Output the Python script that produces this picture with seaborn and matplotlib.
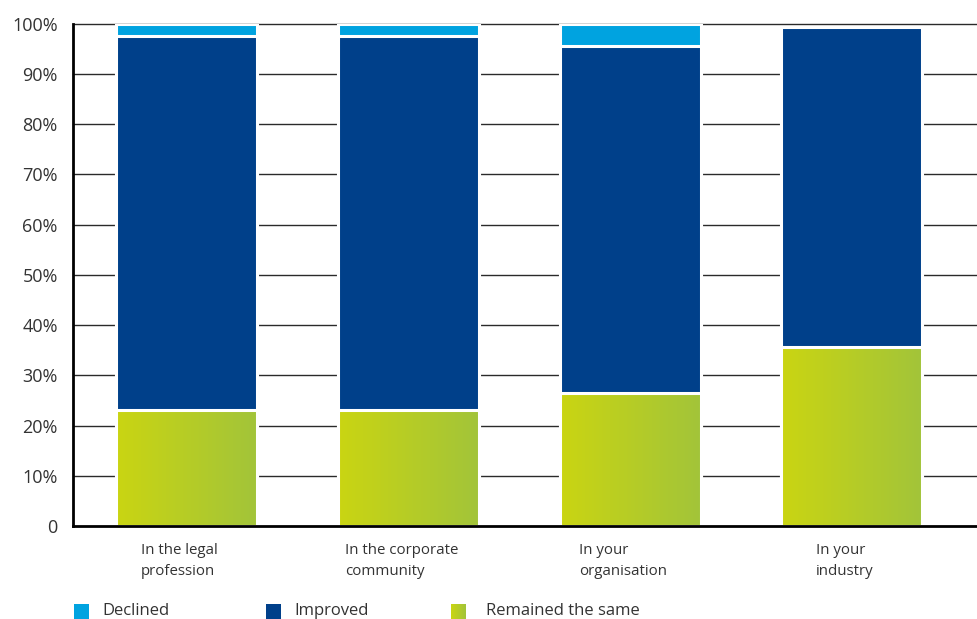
import numpy as np
import pandas as pd
import matplotlib
matplotlib.use("Agg")
import matplotlib.pyplot as plt
import matplotlib.transforms as mtransforms
import seaborn as sns
from matplotlib.patches import Rectangle
from matplotlib.colors import LinearSegmentedColormap

# ---- data (percent of respondents) ----
categories = ["In the legal\nprofession", "In the corporate\ncommunity",
              "In your\norganisation", "In your\nindustry"]
remained = [23.0, 23.0, 26.5, 35.6]
improved = [74.5, 74.5, 69.0, 63.8]
declined = [2.5, 2.5, 4.5, 0.0]
series = ["Declined", "Improved", "Remained the same"]
y_ticks = [0, 10, 20, 30, 40, 50, 60, 70, 80, 90, 100]
y_tick_labels = ["0", "10%", "20%", "30%", "40%", "50%", "60%", "70%", "80%", "90%", "100%"]

c_declined = "#00a3e0"
c_improved = "#00408a"
green_cmap = LinearSegmentedColormap.from_list("greens", ["#cad512", "#a2c43a"])

sns.set_style("white")
plt.rcParams["font.family"] = ["Open Sans", "DejaVu Sans"]
text_color = "#333333"

df = pd.DataFrame({"category": categories, "remained": remained,
                   "improved": improved, "declined": declined})
df["top_improved"] = df["remained"] + df["improved"]
df["top_declined"] = df["top_improved"] + df["declined"]

fig = plt.figure(figsize=(9.77, 6.19), dpi=100)
ax = fig.add_axes([0.0747, 0.1502, 0.9253, 0.8115])

bar_w = 0.636
common = dict(x="category", order=categories, width=bar_w, saturation=1,
              edgecolor="white", linewidth=2.2, ax=ax)

# stacked bars drawn as overlapping cumulative totals
sns.barplot(data=df, y="top_declined", color=c_declined, zorder=2, **common)
sns.barplot(data=df, y="top_improved", color=c_improved, zorder=3, **common)
n_before = len(ax.patches)
sns.barplot(data=df, y="remained", color="#b8cc2a", zorder=4, **common)
green_patches = ax.patches[n_before:]

xlim = (-0.512, 3.564)
ylim = (0, 100)

# horizontal gradient fill for the "Remained the same" segments
grad = np.linspace(0, 1, 256).reshape(1, -1)
for p in green_patches:
    x0, y0 = p.get_x(), p.get_y()
    w, h = p.get_width(), p.get_height()
    im = ax.imshow(grad, extent=[x0, x0 + w, y0, y0 + h], aspect="auto",
                   cmap=green_cmap, zorder=4.5, interpolation="bilinear")
    im.set_clip_path(p)
    p.set_facecolor("none")
    p.set_zorder(4.6)

ax.set_xlim(*xlim)
ax.set_ylim(*ylim)

# gridlines behind the bars
for yv in y_ticks[1:]:
    ax.axhline(yv, color="#2a2a2a", lw=1.0, zorder=1, clip_on=False)

ax.set_yticks(y_ticks)
ax.set_yticklabels(y_tick_labels, fontsize=13, color=text_color)
ax.tick_params(axis="y", length=0, pad=11)
ax.set_xticks(range(len(categories)))
ax.set_xticklabels(categories, fontsize=10.8, color=text_color,
                   ha="center", multialignment="left", linespacing=1.6)
ax.tick_params(axis="x", length=0, pad=12)
shift = mtransforms.ScaledTranslation(-7 / 100, 0, fig.dpi_scale_trans)
for lbl in ax.get_xticklabels():
    lbl.set_transform(lbl.get_transform() + shift)
ax.set_xlabel("")
ax.set_ylabel("")

for side in ["top", "right"]:
    ax.spines[side].set_visible(False)
for side in ["left", "bottom"]:
    ax.spines[side].set_color("black")
    ax.spines[side].set_linewidth(2.0)
    ax.spines[side].set_zorder(6)

# legend row along the bottom edge
W, H = 977, 619
legend_items = [
    (74, 102, "Declined", c_declined),
    (266, 294, "Improved", c_improved),
    (451, 486, "Remained the same", None),
]
for sx, tx, label, col in legend_items:
    if col is not None:
        fig.patches.append(Rectangle((sx / W, 1 - 619 / H), 15 / W, 15 / H,
                                     transform=fig.transFigure, facecolor=col,
                                     edgecolor="none"))
    else:
        lax = fig.add_axes([sx / W, 0.0, 15 / W, 15 / H])
        lax.imshow(grad, aspect="auto", cmap=green_cmap, interpolation="bilinear")
        lax.axis("off")
    fig.text(tx / W, 1 - 615 / H, label, fontsize=12, color=text_color,
             va="baseline", ha="left")

fig.savefig("out.png", dpi=100)
